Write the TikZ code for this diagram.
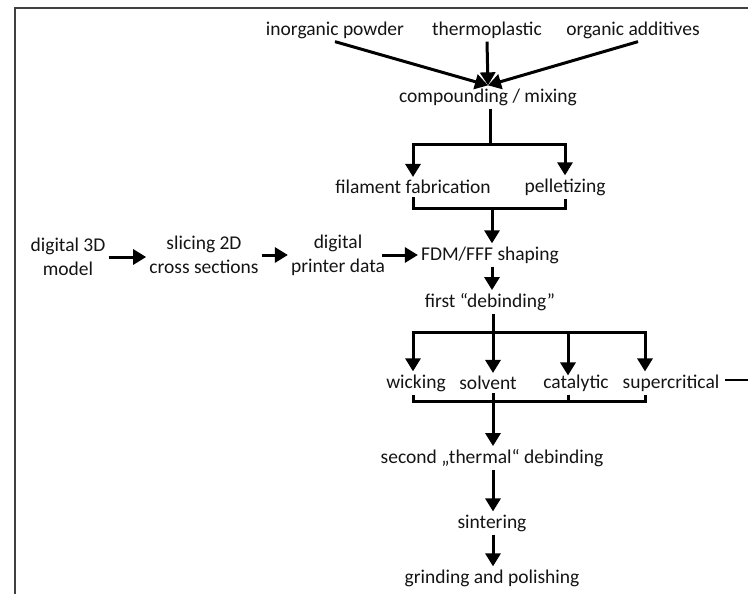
\documentclass[tikz,border=0pt]{standalone}
\usepackage{fontspec}
\setmainfont{Carlito}
\usetikzlibrary{arrows.meta}
\begin{document}
\begin{tikzpicture}[x=1pt,y=-1pt,
  txt/.style={font=\fontsize{19.5}{24}\selectfont, inner sep=3pt, align=center, text=black!92},
  arr/.style={line width=3pt, -{Triangle[width=15pt,length=13pt]}},
  conn/.style={line width=3pt}]
\useasboundingbox (0,0) rectangle (748,594);
% frame
\draw[line width=2.2pt, black!75] (15,594) -- (15,8) -- (748,8);
\coordinate (edgeA) at (725,380);
\coordinate (edgeB) at (748,380);
\draw[line width=1.2pt] (edgeA) -- (edgeB);
% nodes
\node[txt] (inorg) at (335,30) {inorganic powder};
\node[txt] (thermo) at (487,30) {thermoplastic};
\node[txt] (organ) at (633,30) {organic additives};
\node[txt] (comp) at (488,97) {compounding / mixing};
\node[txt] (fil) at (413,187) {filament fabrication};
\node[txt] (pel) at (565,187) {pelletizing};
\node[txt] (m3d) at (68,257) {digital 3D\\model};
\node[txt] (slice) at (204,255) {slicing 2D\\cross sections};
\node[txt] (pdata) at (338,255) {digital\\printer data};
\node[txt] (fdm) at (490,255) {FDM/FFF shaping};
\node[txt] (first) at (490,302) {first “debinding”};
\node[txt] (wick) at (416,383) {wicking};
\node[txt] (solv) at (488,383) {solvent};
\node[txt] (cat) at (576,383) {catalytic};
\node[txt] (sup) at (671,383) {supercritical};
\node[txt] (second) at (492,458) {second „thermal“ debinding};
\node[txt] (sint) at (492,523) {sintering};
\node[txt] (grind) at (492,578) {grinding and polishing};
% top merge
\draw[arr] (inorg.south) -- (comp.north);
\draw[arr] (thermo.south) -- (comp.north);
\draw[arr] ([xshift=5pt]organ.south) -- (comp.north);
% split 1
\coordinate (b1) at (490,145);
\draw[conn] (comp.south -| b1) -- (b1);
\draw[arr] (b1) -| (fil.north);
\draw[arr] (b1) -| (pel.north);
% merge 1
\coordinate (b2) at (492,208);
\draw[conn] (fil.south) |- (b2);
\draw[conn] (pel.south) |- (b2);
\draw[arr] (b2) -- (b2 |- fdm.north);
% digital chain
\draw[arr] (m3d.east) -- (m3d.east -| slice.west);
\draw[arr] (slice.east) -- (slice.east -| pdata.west);
\draw[arr, shorten <=-6pt] (pdata.east) -- (pdata.east -| fdm.west);
\draw[arr] (fdm.south -| b2) -- (first.north -| b2);
% split 2
\coordinate (t1) at (413,332);
\coordinate (t2) at (493,332);
\coordinate (t3) at (568,332);
\coordinate (t4) at (645,332);
\draw[conn] (first.south -| t2) -- (t2);
\draw[conn] ([xshift=-1.5pt]t1) -- ([xshift=1.5pt]t4);
\draw[arr] ([yshift=-1pt]t1) -- (t1 |- wick.north);
\draw[arr] ([yshift=-1pt]t2) -- (t2 |- solv.north);
\draw[arr] ([yshift=-1pt]t3) -- ([yshift=-4pt]t3 |- cat.north);
\draw[arr] ([yshift=-1pt]t4) -- (t4 |- sup.north);
% merge 2
\coordinate (u1) at (413,401);
\coordinate (u2) at (493,401);
\coordinate (u3) at (568,401);
\coordinate (u4) at (645,401);
\draw[conn] (u1 |- wick.south) -- (u1) -- (u4) -- (u4 |- sup.south);
\draw[conn] (u3 |- cat.south) -- (u3);
\draw[arr] (u2 |- solv.south) -- (u2 |- second.north);
% final chain
\draw[arr] (second.south -| u2) -- (sint.north -| u2);
\draw[arr] (sint.south -| u2) -- (grind.north -| u2);
\end{tikzpicture}
\end{document}
